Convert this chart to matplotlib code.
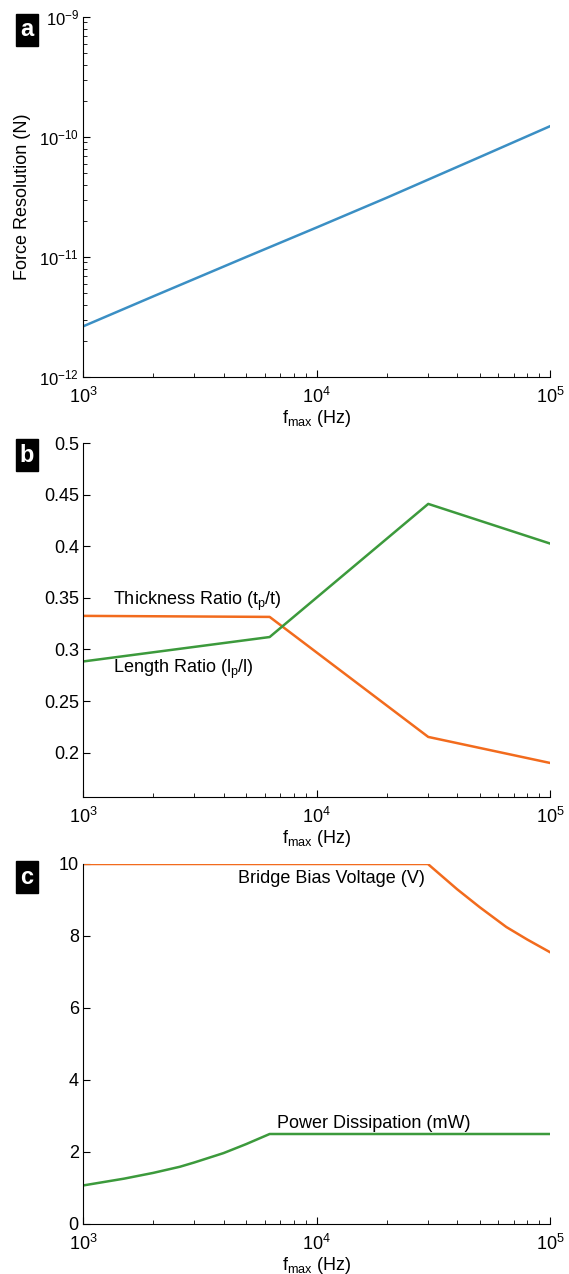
import matplotlib
matplotlib.use("Agg")
import math
import matplotlib.pyplot as plt
from matplotlib.ticker import LogLocator, FixedLocator, NullFormatter, FuncFormatter

plt.rcParams['font.family'] = ['Liberation Sans', 'DejaVu Sans']
plt.rcParams['mathtext.fontset'] = 'custom'
plt.rcParams['mathtext.rm'] = 'Liberation Sans'
plt.rcParams['mathtext.it'] = 'Liberation Sans:italic'
plt.rcParams['font.size'] = 12

# panel a: force resolution vs f_max
fa = [1e3, 2e3, 5e3, 1e4, 2e4, 5e4, 1e5]
force = [2.64e-12, 4.7e-12, 1.0e-11, 1.76e-11, 3.12e-11, 6.8e-11, 1.23e-10]

# panel b: geometry ratios
fb = [1e3, 6.3e3, 3.01e4, 1e5]
thick_ratio = [0.3325, 0.3315, 0.2152, 0.190]
length_ratio = [0.2883, 0.312, 0.441, 0.4026]

# panel c: bias voltage and power
fv = [1e3, 3.0e4, 4e4, 5e4, 6.5e4, 8e4, 1e5]
bias_v = [10, 10, 9.3, 8.8, 8.25, 7.9, 7.55]
fp = [1e3, 1.5e3, 2e3, 2.6e3, 3e3, 4e3, 5e3, 6.3e3, 1e5]
power = [1.07, 1.26, 1.42, 1.59, 1.71, 1.97, 2.22, 2.5, 2.5]

blue = '#3b8fc4'
orange = '#f26b1d'
green = '#3c9a3c'

W, H = 569, 1274
fig = plt.figure(figsize=(W / 100, H / 100), dpi=100)

def box(top, bottom):
    return [83 / W, 1 - bottom / H, 467 / W, (bottom - top) / H]

ax_a = fig.add_axes(box(17, 377))
ax_b = fig.add_axes(box(443, 797))
ax_c = fig.add_axes(box(864, 1224))

def pow10(v, pos):
    e = int(round(math.log10(v)))
    return r'$10^{%d}$' % e

for ax in (ax_a, ax_b, ax_c):
    ax.set_xscale('log')
    ax.set_xlim(1e3, 1e5)
    ax.spines['top'].set_visible(False)
    ax.spines['right'].set_visible(False)
    ax.tick_params(which='both', direction='in', top=False, right=False)
    ax.tick_params(which='major', length=5, labelsize=13, pad=7)
    ax.tick_params(which='minor', length=3)
    ax.xaxis.set_major_locator(FixedLocator([1e3, 1e4, 1e5]))
    ax.xaxis.set_major_formatter(FuncFormatter(pow10))
    ax.xaxis.set_minor_locator(LogLocator(base=10, subs=range(2, 10)))
    ax.xaxis.set_minor_formatter(NullFormatter())
    ax.set_xlabel(r'f$_{\mathrm{max}}$ (Hz)', fontsize=13, labelpad=1)

# a
ax_a.plot(fa, force, color=blue, lw=1.8)
ax_a.set_yscale('log')
ax_a.set_ylim(1e-12, 1e-9)
ax_a.yaxis.set_major_locator(FixedLocator([1e-12, 1e-11, 1e-10, 1e-9]))
ax_a.yaxis.set_major_formatter(FuncFormatter(pow10))
ax_a.yaxis.set_minor_locator(LogLocator(base=10, subs=range(2, 10)))
ax_a.yaxis.set_minor_formatter(NullFormatter())
ax_a.tick_params(axis='y', which='major', pad=3, labelsize=12)
ax_a.set_ylabel('Force Resolution (N)', fontsize=13)
ax_a.yaxis.set_label_coords(-0.112, 0.5)

# b
ax_b.plot(fb, thick_ratio, color=orange, lw=1.8)
ax_b.plot(fb, length_ratio, color=green, lw=1.8)
ax_b.set_ylim(0.157, 0.5)
ax_b.set_yticks([0.2, 0.25, 0.3, 0.35, 0.4, 0.45, 0.5])
ax_b.set_yticklabels(['0.2', '0.25', '0.3', '0.35', '0.4', '0.45', '0.5'])
ax_b.tick_params(axis='y', which='major', pad=3)
ax_b.text(1343, 0.347, r'Thickness Ratio (t$_{\mathrm{p}}$/t)', fontsize=13, va='center')
ax_b.text(1343, 0.281, r'Length Ratio (l$_{\mathrm{p}}$/l)', fontsize=13, va='center')

# c
ax_c.plot(fv, bias_v, color=orange, lw=1.8)
ax_c.plot(fp, power, color=green, lw=1.8)
ax_c.set_ylim(0, 10)
ax_c.set_yticks([0, 2, 4, 6, 8, 10])
ax_c.tick_params(axis='y', which='major', pad=3)
ax_c.text(4.6e3, 9.61, 'Bridge Bias Voltage (V)', fontsize=13, va='center')
ax_c.text(6.8e3, 2.78, 'Power Dissipation (mW)', fontsize=13, va='center')

for letter, ycen in (('a', 30), ('b', 455), ('c', 877)):
    fig.text(27 / W, 1 - ycen / H, letter, color='white', fontsize=17, weight='bold',
             ha='center', va='center',
             bbox=dict(facecolor='black', edgecolor='black', boxstyle='square,pad=0.18'))

fig.savefig('out.png', dpi=100)
